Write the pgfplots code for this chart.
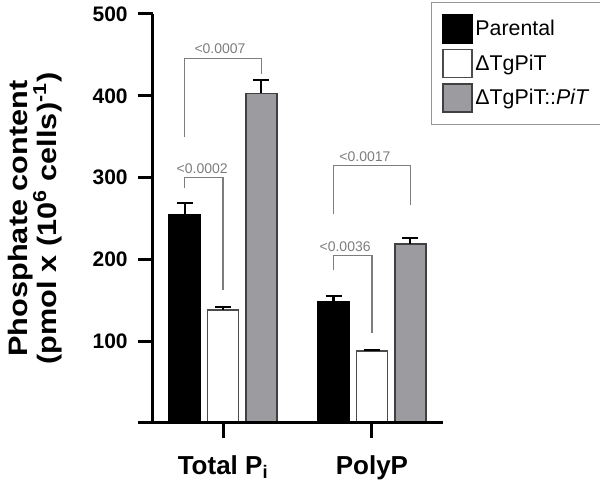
\documentclass[border=0pt]{standalone}
\usepackage{fontspec}
\setmainfont{Liberation Sans}
\usepackage{graphicx}
\usepackage{pgfplots}
\pgfplotsset{compat=1.18}
\definecolor{bargray}{RGB}{155,155,160}
\definecolor{brgray}{RGB}{125,125,125}
\definecolor{leggray}{RGB}{150,150,150}
\pgfplotsset{patchlegend/.style={legend image code/.code={\draw[##1] (0pt,-10.5pt) rectangle (21.75pt,10.5pt);}}}
\begin{document}
\begin{tikzpicture}
\begin{axis}[name=ax,
  scale only axis, width=217.5pt, height=306.75pt,
  xmin=-0.47, xmax=1.477, ymin=0, ymax=500,
  clip=false,
  axis lines*=left,
  axis line style={line width=2.25pt, black},
  x axis line style={draw=none},
  tick align=outside,
  major tick length=11pt,
  every tick/.style={black, line width=2.25pt},
  xtick={0,1}, xticklabels={Total P\textsubscript{i}, PolyP},
  ytick={100,200,300,400,500},
  minor tick num=0,
  /pgf/number format/assume math mode=true,
  yticklabel style={font=\fontsize{15.75}{18}\selectfont\bfseries, xshift=-4.5pt},
  xticklabel style={font=\fontsize{19.5}{22}\selectfont\bfseries, yshift=-10pt},
  legend style={at={(rel axis cs:0.9586,1.03)}, anchor=north west,
    draw=leggray, line width=1pt, font=\fontsize{16}{18}\selectfont,
    inner xsep=8pt, inner ysep=9pt, row sep=3.75pt, legend cell align=left},
]
\addplot[ybar, bar width=23.25pt, bar shift=0pt, fill=black, draw=black, line width=1.1pt, patchlegend,
  error bars/.cd, y dir=plus, y explicit,
  error bar style={line width=1.6pt, black},
  error mark options={rotate=90, mark size=6pt, line width=1.6pt, black}]
  coordinates {(-0.258,255) +- (0,13.5) (0.742,148) +- (0,7)};
\addlegendentry{Parental}
\addplot[ybar, bar width=23.25pt, bar shift=0pt, fill=white, draw=black!70, line width=1.1pt, patchlegend,
  error bars/.cd, y dir=plus, y explicit,
  error bar style={line width=1.6pt, black},
  error mark options={rotate=90, mark size=6pt, line width=1.6pt, black}]
  coordinates {(0,138) +- (0,3.5) (1,88) +- (0,1.5)};
\addlegendentry{ΔTgPiT}
\addplot[ybar, bar width=23.25pt, bar shift=0pt, fill=bargray, draw=black!75, line width=1.1pt, patchlegend,
  error bars/.cd, y dir=plus, y explicit,
  error bar style={line width=1.6pt, black},
  error mark options={rotate=90, mark size=6pt, line width=1.6pt, black}]
  coordinates {(0.258,403) +- (0,16) (1.258,219) +- (0,7)};
\addlegendentry{ΔTgPiT::\textit{PiT}}
% x axis line extending left
\draw[line width=2.25pt, black] ([xshift=-11pt]rel axis cs:0,0) -- (rel axis cs:1,0);
% significance brackets
\draw[brgray, line width=1pt] (axis cs:-0.258,287) |- (axis cs:0,300) -- (axis cs:0,163);
\node[brgray, anchor=south, font=\fontsize{10.5}{12}\selectfont, inner sep=1pt] at (axis cs:-0.14,303) {<0.0002};
\draw[brgray, line width=1pt] (axis cs:-0.258,350) |- (axis cs:0.258,446) -- (axis cs:0.258,427);
\node[brgray, anchor=south, font=\fontsize{10.5}{12}\selectfont, inner sep=1pt] at (axis cs:-0.02,449) {<0.0007};
\draw[brgray, line width=1pt] (axis cs:0.742,187) |- (axis cs:1.0,205) -- (axis cs:1.0,110);
\node[brgray, anchor=south, font=\fontsize{10.5}{12}\selectfont, inner sep=1pt] at (axis cs:0.82,208) {<0.0036};
\draw[brgray, line width=1pt] (axis cs:0.742,255) |- (axis cs:1.258,315) -- (axis cs:1.258,267);
\node[brgray, anchor=south, font=\fontsize{10.5}{12}\selectfont, inner sep=1pt] at (axis cs:0.953,318) {<0.0017};
% y label
\node[rotate=90, align=center, inner sep=0pt] at ([xshift=-88.5pt]rel axis cs:0,0.5)
  {\scalebox{1.15}[1]{\fontsize{20}{21.5}\selectfont\bfseries Phosphate content}\\[-1pt]
   \scalebox{1.15}[1]{\fontsize{20}{21.5}\selectfont\bfseries (pmol x (10\textsuperscript{6} cells)\textsuperscript{-1})}};
\end{axis}
\pgfresetboundingbox
\path (ax.south west) ++(-114.75pt,-46.5pt) rectangle ++(450pt,363.75pt);
\end{tikzpicture}
\end{document}
